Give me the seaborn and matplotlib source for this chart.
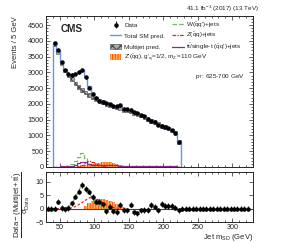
import numpy as np
import pandas as pd
import matplotlib
matplotlib.use("Agg")
import matplotlib.pyplot as plt
import seaborn as sns
from matplotlib.patches import Patch
from matplotlib.lines import Line2D
from matplotlib.legend import Legend
from matplotlib.ticker import MultipleLocator

# ---- values (5 GeV bins) ----
# upper panel: bins 40-225 GeV
edges_main = np.arange(40, 230, 5)
data_main = [3930, 3720, 3320, 3080, 2950, 2920, 2960, 3010, 3070, 2840,
             2520, 2330, 2200, 2100, 2050, 2020, 1990, 1950, 1930, 1960,
             1850, 1830, 1820, 1730, 1700, 1640, 1610, 1520, 1450, 1440,
             1340, 1310, 1280, 1230, 1170, 1080, 800]
total_pred = [3930, 3690, 3340, 3090, 2950, 2920, 2940, 3000, 3080, 2880,
              2560, 2350, 2230, 2140, 2080, 2030, 1990, 1950, 1920, 1890,
              1850, 1820, 1790, 1740, 1700, 1650, 1600, 1540, 1480, 1430,
              1370, 1320, 1280, 1230, 1170, 1090, 800]
multijet = [3900, 3650, 3300, 3060, 2900, 2780, 2650, 2540, 2440, 2360,
            2290, 2220, 2160, 2100, 2050, 2000, 1960, 1920, 1890, 1860,
            1820, 1790, 1760, 1720, 1680, 1630, 1580, 1520, 1470, 1420,
            1360, 1310, 1270, 1220, 1160, 1080, 800]
multijet_err = 60
wjets = [0, 0, 0, 5, 15, 80, 200, 330, 430, 280, 110, 40, 15, 8, 5, 3, 2,
         0, 0, 0, 0, 0, 0, 0, 0, 0, 0, 0, 0, 0, 0, 0, 0, 0, 0, 0, 0]
zjets = [0, 0, 0, 0, 0, 5, 10, 20, 60, 140, 180, 160, 100, 50, 20, 10, 5,
         0, 0, 0, 0, 0, 0, 0, 0, 0, 0, 0, 0, 0, 0, 0, 0, 0, 0, 0, 0]
ttbar = [15, 15, 20, 25, 30, 40, 70, 120, 160, 150, 90, 70, 60, 60, 60, 60,
         55, 50, 50, 45, 45, 40, 40, 35, 35, 35, 30, 30, 30, 25, 25, 25, 25,
         20, 20, 20, 15]
zprime = [0, 0, 0, 0, 0, 5, 10, 20, 30, 50, 70, 100, 120, 140, 160, 170,
          160, 130, 90, 50, 25, 10, 0, 0, 0, 0, 0, 0, 0, 0, 0, 0, 0, 0, 0, 0, 0]

# lower panel: pulls, bins 30-325 GeV
edges_ratio = np.arange(30, 330, 5)
pull_data = [0, 0, 0, 2.6, 0.3, -0.3, 0.2, 2.0, 4.5, 6.4, 8.9, 7.4, 6.4, 4.3,
             2.6, 2.6, 1.6, -1.0, 0.7, -1.0, -1.2, 1.5, -0.6, -0.6, 1.5, -1.4,
             -1.8, -0.6, -0.5, -0.5, 1.3, 0.7, -0.6, 1.7, 1.0, 1.0, 1.0, 0.4,
             -0.6] + [0] * 20
pull_w = [0, 0, 0, 0, 0, 0, 0.5, 2.0, 4.0, 6.8, 9.0, 8.0, 6.0, 3.8, 2.0, 1.0,
          0.4, 0.1, 0, 0]
pull_z = [0, 0, 0, 0, 0, 0, 0, 0.3, 0.8, 1.5, 2.3, 3.2, 4.0, 4.2, 3.8, 3.0,
          2.2, 1.4, 0.8, 0.4, 0.2, 0]
pull_zprime = [0, 0, 0, 0, 0, 0, 0, 0, 0, 0, 0, 1.0, 2.0, 3.0, 3.5, 3.6, 3.5,
               3.3, 3.0, 2.5, 1.8, 1.2, 0.5, 0]

c_blue = "#6a94dc"
c_green = "#6fbf5f"
c_red = "#ee2222"
c_purple = "#8b2a8b"
c_orange = "#ff5a00"
c_orange_fill = "#ffb060"

sns.set_style("ticks")
plt.rcParams.update({
    "font.family": ["Liberation Sans", "DejaVu Sans"],
    "mathtext.fontset": "custom",
    "mathtext.rm": "Liberation Sans",
    "mathtext.it": "Liberation Sans:italic",
    "mathtext.bf": "Liberation Sans:bold",
    "xtick.direction": "in", "ytick.direction": "in",
    "xtick.top": True, "ytick.right": True,
    "xtick.major.size": 3.0, "ytick.major.size": 3.0,
    "xtick.minor.size": 1.6, "ytick.minor.size": 1.6,
    "xtick.major.width": 0.5, "ytick.major.width": 0.5,
    "xtick.minor.width": 0.5, "ytick.minor.width": 0.5,
    "axes.linewidth": 0.7,
    "hatch.linewidth": 0.8,
})

fig = plt.figure(figsize=(2.83, 2.43), dpi=100)
ax = fig.add_axes([0.1625, 0.3128, 0.7314, 0.6214])
axr = fig.add_axes([0.1625, 0.0864, 0.7314, 0.2058], sharex=ax)

cm = edges_main[:-1] + 2.5
cr = edges_ratio[:-1] + 2.5

# ---- upper panel ----
ax.bar(cm, zprime, width=5, facecolor=c_orange_fill, edgecolor=c_orange,
       hatch="||||||", lw=0)
for vals, col, ls in [(wjets, c_green, "--"), (zjets, c_red, (0, (3, 1, 1, 1))),
                      (ttbar, c_purple, "-")]:
    df = pd.DataFrame({"m": cm, "w": np.asarray(vals, dtype=float)})
    sns.histplot(data=df, x="m", weights="w", bins=list(edges_main),
                 element="step", fill=False, color=col, ls=ls, lw=0.9, ax=ax)
mj = np.array(multijet)
ax.bar(cm, 2 * multijet_err, bottom=mj - multijet_err, width=5,
       facecolor="#aaaaaa", edgecolor="#444444", hatch="xxxx", lw=0.4)
ax.stairs(total_pred, edges_main, color=c_blue, lw=1.0, baseline=0)
d = np.array(data_main)
eb = ax.errorbar(cm, d, yerr=np.sqrt(d), fmt="o", ms=2.2, color="black",
                 elinewidth=0.6, capsize=0)

ax.set_xlim(30, 330)
ax.set_ylim(0, 4790)
ax.set_xlabel("")
ax.set_ylabel("Events / 5 GeV", fontsize=5.5, loc="top")
ax.yaxis.set_label_coords(-0.13, 1.0)
ax.yaxis.set_major_locator(MultipleLocator(500))
ax.yaxis.set_minor_locator(MultipleLocator(100))
ax.xaxis.set_major_locator(MultipleLocator(50))
ax.xaxis.set_minor_locator(MultipleLocator(10))
ax.tick_params(labelsize=5.2, pad=1.5)
ax.tick_params(axis="x", labelbottom=False)

ax.text(0.07, 0.95, "CMS", transform=ax.transAxes, fontsize=7.2,
        fontweight="bold", va="top", ha="left")
ax.text(1.03, 1.015, r"41.1 fb$^{-1}$ (2017) (13 TeV)", transform=ax.transAxes,
        fontsize=4.6, ha="right", va="bottom")
ax.text(0.96, 0.596, r"p$_{\rm T}$: 625-700 GeV", transform=ax.transAxes,
        fontsize=4.6, ha="right", va="center")

# legend: one entry per row so that both columns share row positions
entries = [
    (eb, "Data", 0.309, 0.940),
    (Line2D([], [], color=c_blue, lw=1.0), "Total SM pred.", 0.309, 0.868),
    (Patch(facecolor="#aaaaaa", edgecolor="#444444", hatch="xxxx", lw=0.4),
     "Multijet pred.", 0.309, 0.795),
    (Patch(facecolor=c_orange_fill, edgecolor=c_orange, hatch="||||||", lw=0),
     r"Z'($\bar{\rm q}$q), g$'_{\rm q}$=1/2, m$_{\rm Z'}$=110 GeV", 0.309, 0.722),
    (Line2D([], [], color=c_green, ls="--", lw=0.9),
     r"W($\bar{\rm q}$q')+jets", 0.609, 0.940),
    (Line2D([], [], color=c_red, ls=(0, (3, 1, 1, 1)), lw=0.9),
     r"Z($\bar{\rm q}$q)+jets", 0.609, 0.868),
    (Line2D([], [], color=c_purple, lw=0.9),
     r"t$\bar{\rm t}$/single-t ($\bar{\rm q}$q')+jets", 0.609, 0.795),
]
for handle, label, lx, ly in entries:
    lg = Legend(ax, [handle], [label], loc="center left",
                bbox_to_anchor=(lx, ly), fontsize=4.6, frameon=False,
                handlelength=1.8, handleheight=0.9, handletextpad=0.4,
                borderpad=0, borderaxespad=0)
    ax.add_artist(lg)

# ---- lower panel ----
axr.axhline(0, color="#7a2a3a", lw=0.8)
axr.bar(cr[:len(pull_zprime)], pull_zprime, width=5, facecolor=c_orange_fill,
        edgecolor=c_orange, hatch="||||||", lw=0)
sns.lineplot(x=cr[:len(pull_w)], y=pull_w, color=c_green, ls="--", lw=0.9,
             ax=axr)
sns.lineplot(x=cr[:len(pull_z)], y=pull_z, color=c_red, ls=(0, (2, 1.5)),
             lw=0.9, ax=axr)
axr.errorbar(cr, pull_data, yerr=1.0, fmt="o", ms=2.2, color="black",
             elinewidth=0.6, capsize=0)

axr.set_ylim(-5, 13.7)
axr.yaxis.set_major_locator(MultipleLocator(5))
axr.tick_params(labelsize=5.2, pad=1.5)
axr.set_xlabel(r"Jet m$_{\rm SD}$ (GeV)", fontsize=5.5, loc="right",
               labelpad=1)
axr.set_ylabel(r"$\dfrac{\rm Data - (Multijet + t\bar{t})}{\sigma_{\rm Data}}$",
               fontsize=5.6)
axr.yaxis.set_label_coords(-0.068, 0.35)

fig.savefig("out.png", dpi=100)
